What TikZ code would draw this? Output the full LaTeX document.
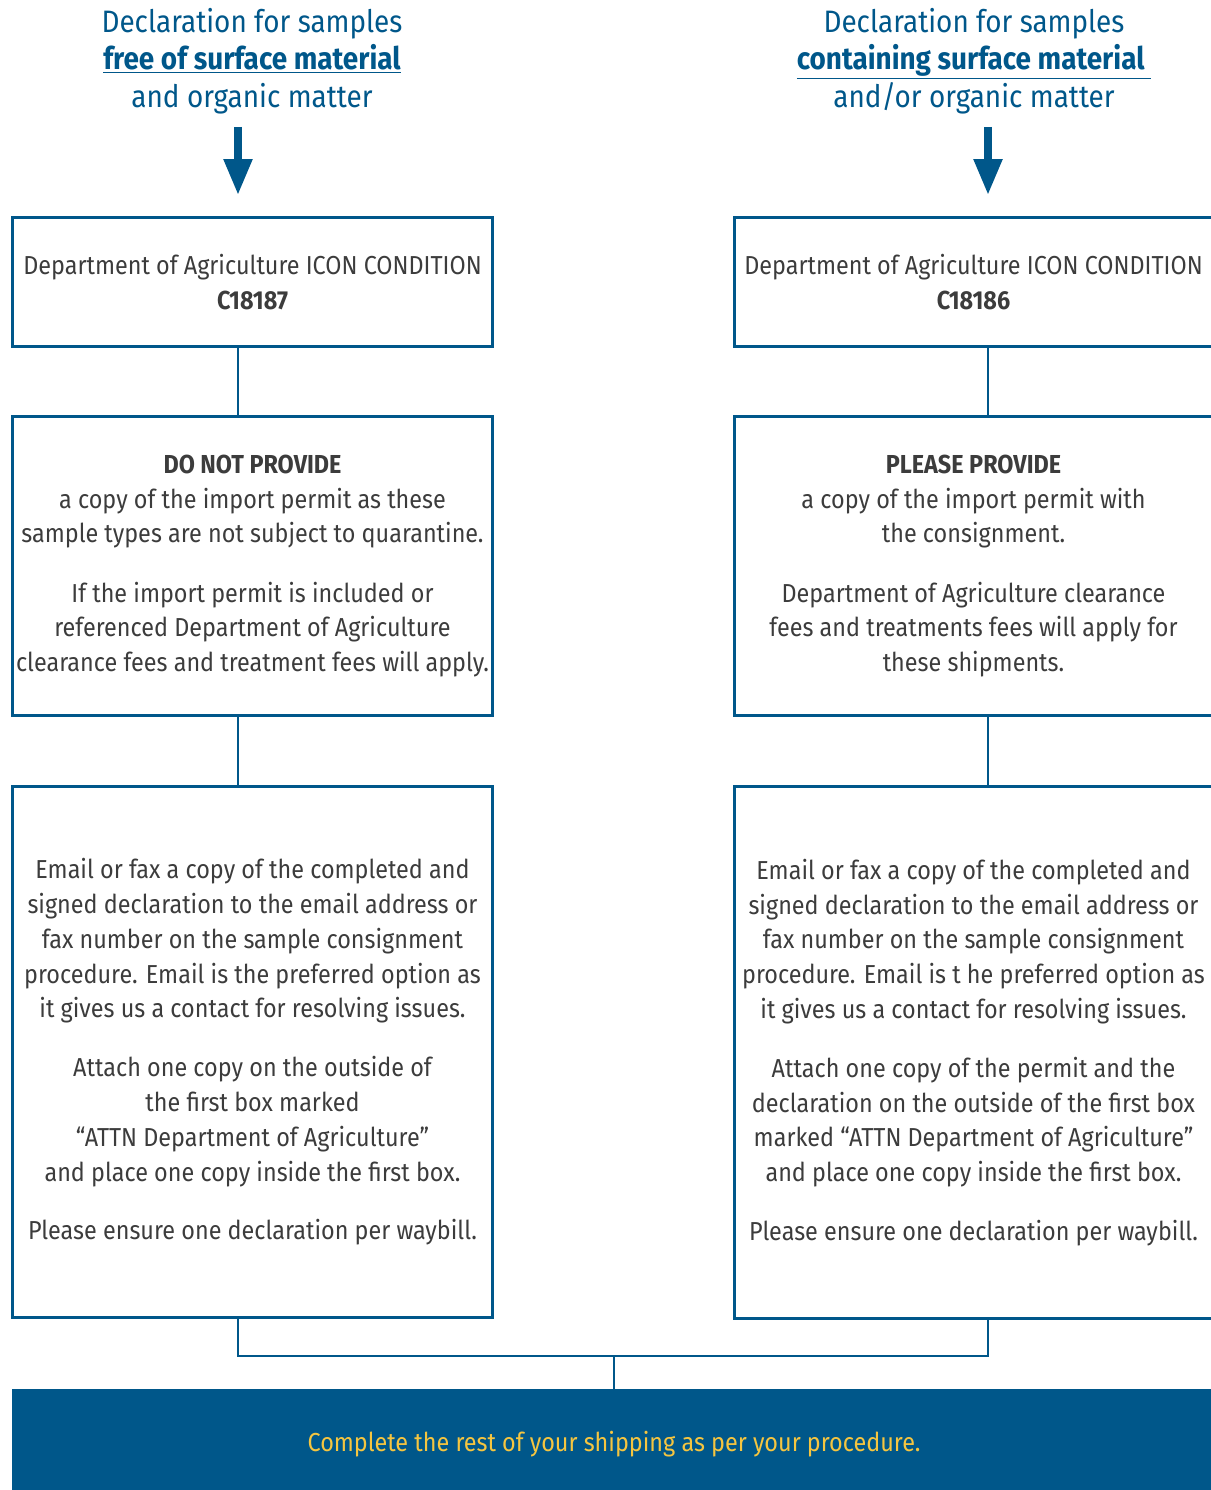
\documentclass[tikz,border=0pt]{standalone}
\usepackage{fontspec}
\setmainfont[FakeStretch=0.9]{Fira Sans}
\usetikzlibrary{arrows.meta}
\definecolor{dblue}{HTML}{00578A}
\definecolor{tgray}{HTML}{3C3C3C}
\definecolor{tyellow}{HTML}{F5C540}
\begin{document}
\begin{tikzpicture}[x=1pt,y=-1pt,
  box/.style={draw=dblue, line width=2.8pt, text=tgray, align=center, inner sep=0pt,
    font=\fontsize{26}{34.8}\selectfont},
  header/.style={text=dblue, align=center, inner sep=0pt, font=\fontsize{31}{37.5}\selectfont},
  conn/.style={draw=dblue, line width=2.5pt},
  bigarrow/.style={draw=dblue, line width=8pt, -{Triangle[width=27pt,length=36pt]}},
  band/.style={fill=dblue, text=tyellow, inner sep=0pt, font=\fontsize{26}{30}\selectfont}]
\useasboundingbox (0,0) rectangle (1210,1490);

% headers
\node[header] (hL) at (252,61) {Declaration for samples\\ \textbf{\underline{free of surface material}}\\ and organic matter};
\node[header] (hR) at (974,61) {Declaration for samples\\ \textbf{\underline{containing surface material\ }}\\ and/or organic matter};

% column axes
\coordinate (cL) at (238,127);
\coordinate (cR) at (988,127);
\coordinate (j) at (614,1356);

% boxes left
\node[box, minimum width=480pt, minimum height=129pt] (b1L) at (252.5,282) {Department of Agriculture ICON CONDITION\\ \textbf{C18187}};
\node[box, minimum width=480pt, minimum height=299pt] (b2L) at (252.5,566) {\textbf{DO NOT PROVIDE}\\ a copy of the import permit as these\\ sample types are not subject to quarantine.\\[24.5pt] If the import permit is included or\\ referenced Department of Agriculture\\ clearance fees and treatment fees will apply.};
\node[box, minimum width=480pt, minimum height=531pt] (b3L) at (252.5,1052) {Email or fax a copy of the completed and\\ signed declaration to the email address or\\ fax number on the sample consignment\\ procedure. Email is the preferred option as\\ it gives us a contact for resolving issues.\\[24pt] Attach one copy on the outside of\\ the first box marked\\ “ATTN Department of Agriculture”\\ and place one copy inside the first box.\\[24pt] Please ensure one declaration per waybill.};

% boxes right
\node[box, minimum width=478pt, minimum height=129pt] (b1R) at (973.5,282) {Department of Agriculture ICON CONDITION\\ \textbf{C18186}};
\node[box, minimum width=478pt, minimum height=299pt] (b2R) at (973.5,566) {\textbf{PLEASE PROVIDE}\\ a copy of the import permit with\\ the consignment.\\[24.5pt] Department of Agriculture clearance\\ fees and treatments fees will apply for\\ these shipments.};
\node[box, minimum width=478pt, minimum height=532pt] (b3R) at (973.5,1052.5) {Email or fax a copy of the completed and\\ signed declaration to the email address or\\ fax number on the sample consignment\\ procedure. Email is t he preferred option as\\ it gives us a contact for resolving issues.\\[24pt] Attach one copy of the permit and the\\ declaration on the outside of the first box\\ marked “ATTN Department of Agriculture”\\ and place one copy inside the first box.\\[24pt] Please ensure one declaration per waybill.};

% bottom band
\node[band, minimum width=1204pt, minimum height=110pt] (band) at (614,1444) {Complete the rest of your shipping as per your procedure.};

% arrows
\draw[bigarrow, shorten >=21pt] (cL) -- (cL |- b1L.north);
\draw[bigarrow, shorten >=21pt] (cR) -- (cR |- b1R.north);

% connectors
\draw[conn] (b1L.south -| cL) -- (b2L.north -| cL);
\draw[conn] (b2L.south -| cL) -- (b3L.north -| cL);
\draw[conn] (b1R.south -| cR) -- (b2R.north -| cR);
\draw[conn] (b2R.south -| cR) -- (b3R.north -| cR);
\draw[conn] (b3L.south -| cL) |- (j) -| (b3R.south -| cR);
\draw[conn] (j) -- (band.north -| j);
\end{tikzpicture}
\end{document}
